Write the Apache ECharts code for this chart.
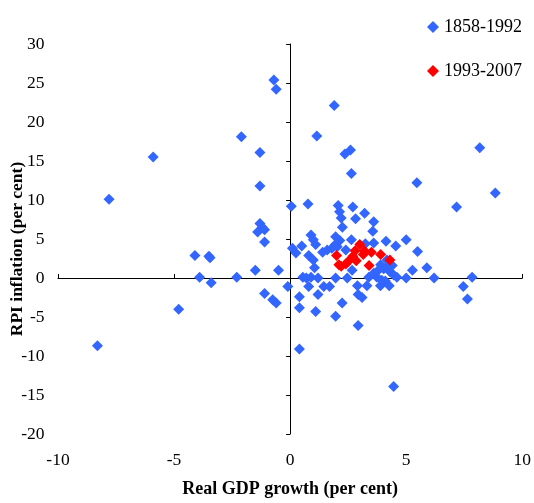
<!DOCTYPE html>
<html>
<head>
<meta charset="utf-8">
<script src="https://cdn.jsdelivr.net/npm/echarts@6/dist/echarts.min.js"></script>
<style>html,body{margin:0;padding:0;background:#fff;overflow:hidden}#c{width:534px;height:503px}</style>
</head>
<body>
<div id="c"></div>
<script>
var seriesNames = ['1858-1992', '1993-2007'];
var xTitle = 'Real GDP growth (per cent)';
var yTitle = 'RPI inflation (per cent)';
// [GDP growth, RPI inflation]
var early = [
 [-8.3,-8.7],[-7.8,10.1],[-5.9,15.5],[-4.8,-4.0],[-4.1,2.9],[-3.9,0.1],[-3.5,2.8],[-3.45,2.6],
 [-3.4,-0.6],[-2.3,0.1],[-2.1,18.1],[-1.5,1.0],[-1.3,16.1],[-1.3,11.8],[-1.3,7.0],[-1.4,5.9],
 [-1.2,6.5],[-1.1,6.2],[-1.1,4.6],[-1.1,-2.0],[-0.75,-2.8],[-0.6,-3.2],[-0.7,25.4],[-0.6,24.2],
 [-0.5,1.0],[-0.1,-1.1],
 [0.05,9.2],[0.1,3.8],[0.25,3.2],[0.4,-2.4],[0.4,-3.8],[0.4,-9.1],[0.5,4.1],[0.55,0.1],[0.7,0.0],
 [0.77,9.5],[0.8,2.9],[0.8,-1.1],[0.9,5.5],[0.9,0.1],[1.0,4.9],[1.0,2.3],[1.05,1.3],[1.1,4.3],
 [1.1,-4.3],[1.15,18.2],[1.2,-2.1],[1.2,0.0],[1.4,3.3],[1.45,-1.1],[1.6,3.6],[1.7,-1.1],[1.8,3.8],
 [1.9,22.1],[1.95,4.3],[1.96,5.3],[1.96,0.0],[1.96,-4.9],[2.03,4.0],[2.07,9.3],[2.13,8.5],[2.2,7.7],
 [2.25,6.5],[2.14,4.8],[2.24,-3.2],[2.4,3.6],[2.36,15.9],[2.46,0.0],[2.6,16.4],[2.64,13.4],[2.64,4.9],
 [2.7,9.1],[2.67,1.0],[2.82,7.6],[2.9,-1.0],[2.93,-2.1],[2.93,-6.1],[3.1,-2.5],[3.21,8.3],[3.24,4.4],
 [3.31,-1.0],[3.39,0.1],[3.56,6.0],[3.6,7.2],[3.6,4.5],[3.74,0.1],[3.89,-1.0],[3.9,1.7],[4.03,1.2],
 [4.1,-0.4],[4.13,4.7],[4.17,2.3],[4.27,-1.0],[4.3,0.8],[4.46,0.4],[4.46,-13.9],[4.55,4.1],[4.6,0.1],
 [5.0,4.9],[5.0,0.0],[5.27,1.0],[5.46,12.2],[5.49,3.4],[5.89,1.3],[6.2,0.0],[7.17,9.1],[7.46,-1.1],
 [7.64,-2.7],[7.84,0.1],[8.17,16.7],[8.84,10.9],
 [3.6,0.6],[3.8,1.0],[4.2,1.5],[4.4,1.6],[3.95,-0.3]
];
var late = [
 [2.0,2.9],[2.1,1.7],[2.2,1.5],[2.4,1.8],[2.5,2.1],[2.7,2.8],[2.8,3.5],[2.85,2.2],
 [3.0,4.3],[3.2,3.5],[3.15,3.0],[3.5,3.3],[3.9,3.0],[4.3,2.3],[3.4,1.6]
];
var xMin = -10, xMax = 10, xStep = 5;
var yMin = -20, yMax = 30, yStep = 5;

var font = '"Liberation Serif","Times New Roman",serif';
var chart = echarts.init(document.getElementById('c'), null, {renderer: 'canvas', width: 534, height: 503});
var noSplit = {show: false};
chart.setOption({
  animation: false,
  backgroundColor: '#ffffff',
  grid: {left: 58, right: 10, top: 44, bottom: 60, containLabel: false},
  legend: {
    orient: 'vertical', left: 422, top: 13, itemGap: 26,
    itemWidth: 12, itemHeight: 12,
    textStyle: {fontFamily: font, fontSize: 18, color: '#000'},
    data: [{name: seriesNames[0], icon: 'diamond'}, {name: seriesNames[1], icon: 'diamond'}]
  },
  xAxis: [
    {type: 'value', position: 'bottom', min: xMin, max: xMax, interval: xStep,
     axisLine: {show: false, onZero: false}, axisTick: {show: false}, splitLine: noSplit,
     axisLabel: {margin: 17, fontFamily: font, fontSize: 17.5, color: '#000'},
     name: xTitle, nameLocation: 'middle', nameGap: 46,
     nameTextStyle: {fontFamily: font, fontSize: 18, fontWeight: 'bold', color: '#000'}},
    {type: 'value', position: 'top', min: xMin, max: xMax, interval: xStep,
     axisLine: {show: true, onZero: true, lineStyle: {color: '#000', width: 1}},
     axisTick: {show: true, length: 4, lineStyle: {color: '#000'}},
     axisLabel: {show: false}, splitLine: noSplit}
  ],
  yAxis: [
    {type: 'value', position: 'left', min: yMin, max: yMax, interval: yStep,
     axisLine: {show: false, onZero: false}, axisTick: {show: false}, splitLine: noSplit,
     axisLabel: {margin: 13.5, fontFamily: font, fontSize: 17.5, color: '#000'}},
    {type: 'value', position: 'left', min: yMin, max: yMax, interval: yStep,
     axisLine: {show: true, onZero: true, lineStyle: {color: '#000', width: 1}},
     axisTick: {show: true, length: 4, lineStyle: {color: '#000'}},
     axisLabel: {show: false}, splitLine: noSplit}
  ],
  graphic: [{
    type: 'text', x: 17, y: 249, rotation: Math.PI / 2,
    style: {text: yTitle, fontFamily: font, fontSize: 17.5, fontWeight: 'bold', fill: '#000',
            align: 'center', verticalAlign: 'middle'}
  }],
  series: [
    {name: seriesNames[0], type: 'scatter', xAxisIndex: 0, yAxisIndex: 0, symbol: 'diamond',
     symbolSize: 11, itemStyle: {color: '#3366FF', opacity: 1}, data: early},
    {name: seriesNames[1], type: 'scatter', xAxisIndex: 0, yAxisIndex: 0, symbol: 'diamond',
     symbolSize: 11, itemStyle: {color: '#FF0000', opacity: 1}, data: late}
  ]
});
</script>
</body>
</html>
